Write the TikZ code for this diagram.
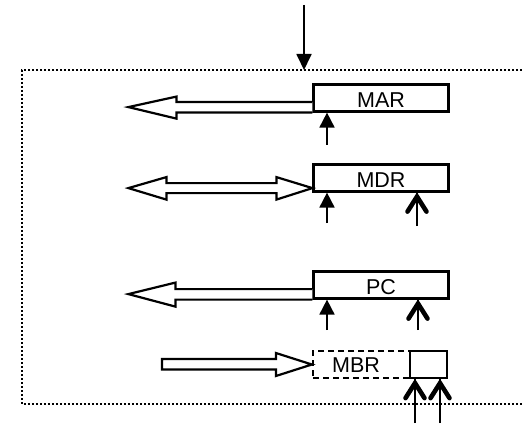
\documentclass[tikz,border=0pt]{standalone}
\usepackage{fontspec}
\setmainfont{Liberation Sans}
\usetikzlibrary{arrows.meta,calc}

\tikzset{
  regfont/.style={font=\fontsize{21.5}{21.5}\selectfont},
  reg/.style={draw, line width=2.2pt, rectangle, inner sep=0pt,
    minimum width=135pt, minimum height=27pt, regfont,
    text height=19pt, text depth=0pt},
  hollow/.style={draw, line width=2.2pt, fill=white, line join=miter},
  thinarrow/.style={line width=1.8pt, -{Triangle[length=15pt,width=15pt]}},
  shaft/.style={line width=1.8pt},
  border/.style={line width=2pt, dash pattern=on 2pt off 2pt},
  chev/.pic={\draw[line width=4.6pt, line join=miter, line cap=round]
    (-9.5,19) -- (0,4) -- (9.5,19);}
}

\begin{document}
\begin{tikzpicture}[x=1pt,y=-1pt]
  \useasboundingbox (0,0) rectangle (522,425);

  % enclosing unit, open on the right
  \draw[border] (522,70) -- (22,70) -- (22,404) -- (522,404);

  % incoming line from above
  \coordinate (topin) at (304,5);
  \coordinate (topend) at (304,70);
  \draw[line width=1.8pt, -{Triangle[length=16pt,width=15pt]}] (topin) -- (topend);

  % registers
  \node[reg] (mar) at (381,98) {MAR};
  \node[reg] (mdr) at (381,178) {MDR};
  \node[reg] (pc)  at (381,285) {PC};
  \node[reg, minimum width=97pt, dashed, dash pattern=on 6pt off 4pt] (mbr) at (361.5,364.5) {};
  \node[regfont, inner sep=0pt] (mbrtext) at (356,365.5) {MBR};
  \node[reg, minimum width=37pt] (mbrx) at (428.5,364.5) {};

  % hollow arrow out of MAR
  \begin{scope}[shift={(mar.south west)}]
    \draw[hollow] (0,-10.5) -- (-136,-10.5) -- (-136,-16) -- (-184,-5.5)
      -- (-136,6) -- (-136,0) -- (0,0);
  \end{scope}

  % hollow double arrow at MDR
  \begin{scope}[shift={(mdr.south west)}]
    \draw[hollow] (0,-4.5) -- (-36,-15.5) -- (-36,-9.5) -- (-146,-9.5) -- (-146,-15.5)
      -- (-184,-4.5) -- (-146,7) -- (-146,0.5) -- (-36,0.5) -- (-36,7) -- cycle;
  \end{scope}

  % hollow arrow out of PC
  \begin{scope}[shift={(pc.south west)}]
    \draw[hollow] (0,-10.5) -- (-137,-10.5) -- (-137,-17) -- (-184,-5.5)
      -- (-137,7) -- (-137,0) -- (0,0);
  \end{scope}

  % hollow arrow into MBR
  \begin{scope}[shift={(mbr.west)}]
    \draw[hollow] (0,0) -- (-36,-11.5) -- (-36,-5.5) -- (-150,-5.5) -- (-150,5)
      -- (-36,5) -- (-36,11.5) -- cycle;
  \end{scope}

  % control lines
  \coordinate (marc) at (327,145);
  \coordinate (mdrc) at (327,223);
  \coordinate (mdrd) at (417,226);
  \coordinate (pcc)  at (327,330);
  \coordinate (pcd)  at (418,330);
  \coordinate (mbra) at (415,423);
  \coordinate (mbrb) at (440,423);

  \draw[thinarrow] (marc) -- (marc |- mar.south);
  \draw[thinarrow] (mdrc) -- (mdrc |- mdr.south);
  \draw[thinarrow] (pcc) -- (pcc |- pc.south);

  \draw[shaft] (mdrd) -- (mdrd |- mdr.south);
  \pic at (mdrd |- mdr.south) {chev};
  \draw[shaft] (pcd) -- (pcd |- pc.south);
  \pic at (pcd |- pc.south) {chev};
  \draw[shaft] (mbra) -- (mbra |- mbrx.south);
  \pic at (mbra |- mbrx.south) {chev};
  \draw[shaft] (mbrb) -- (mbrb |- mbrx.south);
  \pic at (mbrb |- mbrx.south) {chev};
\end{tikzpicture}
\end{document}
